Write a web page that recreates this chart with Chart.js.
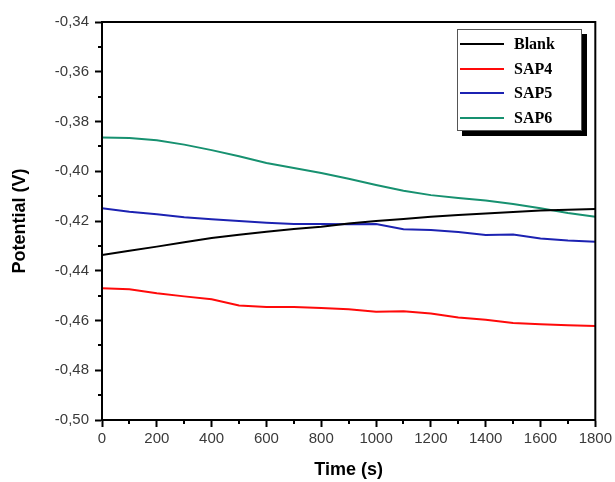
<!DOCTYPE html>
<html>
<head>
<meta charset="utf-8">
<script src="https://cdn.jsdelivr.net/npm/chart.js@4.4.1/dist/chart.umd.min.js"></script>
<style>
html,body{margin:0;padding:0;background:#fff}
#wrap{position:relative;width:615px;height:482px}
#legend{position:absolute;left:457px;top:29px;width:125px;height:102px;border:1px solid #555;background:#fff;box-shadow:5px 5px 0 #000;box-sizing:border-box;font-family:"Liberation Serif","DejaVu Serif",serif;font-weight:bold;font-size:16px;color:#000}
.li{position:absolute;left:0;height:20px;line-height:20px}
.li i{position:absolute;left:2px;top:9px;width:44px;height:2px}
.li span{position:absolute;left:56px;white-space:nowrap}
</style>
</head>
<body>
<div id="wrap"><canvas id="c" width="615" height="482"></canvas><div id="legend"></div></div>
<script>
// readings, every 100 s
const TIMES=[0,100,200,300,400,500,600,700,800,900,1000,1100,1200,1300,1400,1500,1600,1700,1800];
const BLANK=[-0.4337,-0.4320,-0.4303,-0.4285,-0.4268,-0.4255,-0.4243,-0.4232,-0.4223,-0.4210,-0.4200,-0.4192,-0.4183,-0.4176,-0.4170,-0.4164,-0.4158,-0.4155,-0.4152];
const SAP4=[-0.4470,-0.4474,-0.4490,-0.4503,-0.4515,-0.4540,-0.4546,-0.4546,-0.4550,-0.4555,-0.4565,-0.4563,-0.4572,-0.4588,-0.4597,-0.4610,-0.4615,-0.4619,-0.4622];
const SAP5=[-0.4149,-0.4163,-0.4173,-0.4185,-0.4193,-0.4200,-0.4207,-0.4212,-0.4212,-0.4213,-0.4212,-0.4233,-0.4236,-0.4244,-0.4256,-0.4254,-0.4270,-0.4278,-0.4283];
const SAP6=[-0.3864,-0.3866,-0.3875,-0.3893,-0.3915,-0.3940,-0.3967,-0.3987,-0.4007,-0.4030,-0.4055,-0.4078,-0.4096,-0.4108,-0.4118,-0.4132,-0.4149,-0.4168,-0.4183];
const SERIES=[['Blank',BLANK,'#000000'],['SAP4',SAP4,'#ff0a0a'],['SAP5',SAP5,'#1c22b2'],['SAP6',SAP6,'#179170']];

const datasets=SERIES.map(([label,vals,col])=>({label,data:TIMES.map((t,i)=>({x:t,y:vals[i]})),borderColor:col,backgroundColor:col,borderWidth:2,pointRadius:0,tension:0}));

// frame + short minor ticks
const frame={id:'frame',afterDraw(ch){
  const {ctx,chartArea:a,scales:{x,y}}=ch;
  ctx.save();ctx.strokeStyle='#000';ctx.lineWidth=2;
  ctx.strokeRect(a.left,a.top,a.right-a.left,a.bottom-a.top);
  ctx.beginPath();
  for(let t=100;t<1800;t+=200){const px=Math.round(x.getPixelForValue(t));ctx.moveTo(px,a.bottom);ctx.lineTo(px,a.bottom+4)}
  for(let v=-0.49;v<-0.34;v+=0.02){const py=Math.round(y.getPixelForValue(v));ctx.moveTo(a.left,py);ctx.lineTo(a.left-4,py)}
  ctx.stroke();ctx.restore();
}};

const tickFont={family:'"Liberation Sans", Arial, sans-serif',size:15};
const titleFont={family:'"Liberation Sans", Arial, sans-serif',size:18,weight:'bold'};

new Chart(document.getElementById('c'),{type:'line',data:{datasets},
  options:{responsive:false,animation:false,
    layout:{padding:{left:0,right:19,top:22,bottom:0}},
    plugins:{legend:{display:false},tooltip:{enabled:false}},
    scales:{
      x:{type:'linear',min:0,max:1800,
        ticks:{stepSize:200,color:'#3a3a3a',font:tickFont,padding:3,maxRotation:0,callback:v=>String(v)},
        grid:{drawOnChartArea:false,drawTicks:true,tickLength:7,tickColor:'#000',tickWidth:2},
        border:{display:true,color:'#000',width:2},
        title:{display:true,text:'Time (s)',color:'#000',font:titleFont,padding:{top:0,bottom:1}},
        afterFit:s=>{s.height=62}},
      y:{type:'linear',min:-0.5,max:-0.34,
        ticks:{stepSize:0.02,color:'#3a3a3a',font:tickFont,padding:6,callback:v=>v.toFixed(2).replace('.',',')},
        grid:{drawOnChartArea:false,drawTicks:true,tickLength:7,tickColor:'#000',tickWidth:2},
        border:{display:true,color:'#000',width:2},
        title:{display:true,text:'Potential (V)',color:'#000',font:titleFont,padding:{top:9,bottom:0}},
        afterFit:s=>{s.width=102}}
    }},
  plugins:[frame]});

document.getElementById('legend').innerHTML=SERIES.map(([label,,col],i)=>
  '<div class="li" style="top:'+(4+i*24.7)+'px"><i style="background:'+col+'"></i><span>'+label+'</span></div>').join('');
</script>
</body>
</html>
